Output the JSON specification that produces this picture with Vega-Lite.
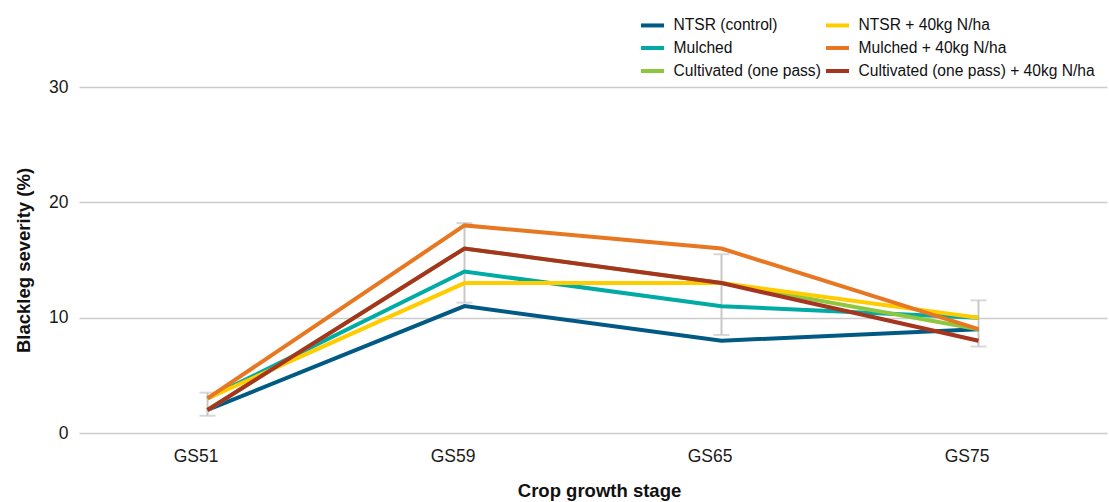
{
  "$schema": "https://vega.github.io/schema/vega-lite/v6.json",
  "width": 1028,
  "height": 346,
  "autosize": {"type": "none"},
  "padding": {"left": 79, "top": 87, "right": 2, "bottom": 69},
  "background": "white",
  "config": {
    "view": {"stroke": null},
    "font": "Liberation Sans"
  },
  "datasets": {
    "lines": [
      {"series": "NTSR (control)", "stage": "GS51", "value": 2},
      {"series": "NTSR (control)", "stage": "GS59", "value": 11},
      {"series": "NTSR (control)", "stage": "GS65", "value": 8},
      {"series": "NTSR (control)", "stage": "GS75", "value": 9},
      {"series": "Mulched", "stage": "GS51", "value": 3},
      {"series": "Mulched", "stage": "GS59", "value": 14},
      {"series": "Mulched", "stage": "GS65", "value": 11},
      {"series": "Mulched", "stage": "GS75", "value": 10},
      {"series": "Cultivated (one pass)", "stage": "GS51", "value": 2},
      {"series": "Cultivated (one pass)", "stage": "GS59", "value": 16},
      {"series": "Cultivated (one pass)", "stage": "GS65", "value": 13},
      {"series": "Cultivated (one pass)", "stage": "GS75", "value": 9},
      {"series": "NTSR + 40kg N/ha", "stage": "GS51", "value": 3},
      {"series": "NTSR + 40kg N/ha", "stage": "GS59", "value": 13},
      {"series": "NTSR + 40kg N/ha", "stage": "GS65", "value": 13},
      {"series": "NTSR + 40kg N/ha", "stage": "GS75", "value": 10},
      {"series": "Mulched  + 40kg N/ha", "stage": "GS51", "value": 3},
      {"series": "Mulched  + 40kg N/ha", "stage": "GS59", "value": 18},
      {"series": "Mulched  + 40kg N/ha", "stage": "GS65", "value": 16},
      {"series": "Mulched  + 40kg N/ha", "stage": "GS75", "value": 9},
      {"series": "Cultivated  (one pass) + 40kg N/ha", "stage": "GS51", "value": 2},
      {"series": "Cultivated  (one pass) + 40kg N/ha", "stage": "GS59", "value": 16},
      {"series": "Cultivated  (one pass) + 40kg N/ha", "stage": "GS65", "value": 13},
      {"series": "Cultivated  (one pass) + 40kg N/ha", "stage": "GS75", "value": 8}
    ],
    "errors": [
      {"stage": "GS51", "low": 1.5, "high": 3.5},
      {"stage": "GS59", "low": 11.3, "high": 18.2},
      {"stage": "GS65", "low": 8.5, "high": 15.5},
      {"stage": "GS75", "low": 7.5, "high": 11.5}
    ]
  },
  "layer": [
    {
      "data": {"name": "errors"},
      "mark": {"type": "rule", "color": "#c8c8c8", "strokeWidth": 2},
      "encoding": {
        "x": {"field": "stage", "type": "nominal", "scale": {"type": "point", "padding": 0.5}, "title": "Crop growth stage",
          "axis": {"domain": false, "ticks": false, "labelAngle": 0, "labelFontSize": 17.5, "labelColor": "#1a1a1a", "labelPadding": 14, "labelOffset": -12, "titleFontSize": 18.5, "titleFontWeight": "bold", "titleColor": "#111111", "titlePadding": 17, "titleX": 520}},
        "y": {"field": "low", "type": "quantitative", "scale": {"domain": [0, 30]}, "title": "Blackleg severity (%)",
          "axis": {"values": [0, 10, 20, 30], "domain": false, "ticks": false, "gridColor": "#cccccc", "gridWidth": 1.5, "labelFontSize": 17.5, "labelColor": "#1a1a1a", "labelPadding": 11, "titleFontSize": 18.5, "titleFontWeight": "bold", "titleColor": "#111111", "titlePadding": 15}},
        "y2": {"field": "high"}
      }
    },
    {
      "data": {"name": "errors"},
      "mark": {"type": "tick", "color": "#c8c8c8", "thickness": 2, "size": 16, "orient": "horizontal"},
      "encoding": {
        "x": {"field": "stage", "type": "nominal"},
        "y": {"field": "low", "type": "quantitative"}
      }
    },
    {
      "data": {"name": "errors"},
      "mark": {"type": "tick", "color": "#c8c8c8", "thickness": 2, "size": 16, "orient": "horizontal"},
      "encoding": {
        "x": {"field": "stage", "type": "nominal"},
        "y": {"field": "high", "type": "quantitative"}
      }
    },
    {
      "data": {"name": "lines"},
      "mark": {"type": "line", "strokeWidth": 4},
      "encoding": {
        "x": {"field": "stage", "type": "nominal"},
        "y": {"field": "value", "type": "quantitative"},
        "order": {"field": "stage"},
        "color": {
          "field": "series",
          "type": "nominal",
          "scale": {
            "domain": ["NTSR (control)", "Mulched", "Cultivated (one pass)", "NTSR + 40kg N/ha", "Mulched  + 40kg N/ha", "Cultivated  (one pass) + 40kg N/ha"],
            "range": ["#005a84", "#00aaa5", "#8dc63f", "#ffcc00", "#e87722", "#a6351f"]
          },
          "legend": {
            "title": null,
            "orient": "none",
            "legendX": 560,
            "legendY": -75.5,
            "columns": 2,
            "columnPadding": -3,
            "rowPadding": 0,
            "symbolType": "stroke",
            "symbolSize": 529,
            "symbolStrokeWidth": 4,
            "labelFontSize": 15.6,
            "labelLimit": 400,
            "labelColor": "#111111",
            "labelOffset": 7.5
          }
        },
        "detail": {"field": "series"}
      }
    }
  ]
}
